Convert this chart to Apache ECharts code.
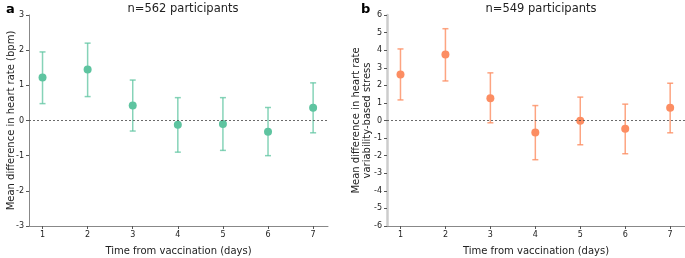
<!DOCTYPE html>
<html>
<head>
<meta charset="utf-8">
<script src="https://cdn.jsdelivr.net/npm/echarts@6/dist/echarts.min.js"></script>
<style>
  html, body { margin: 0; padding: 0; background: #fff; }
  #chart { width: 685px; height: 258px; }
</style>
</head>
<body>
<div id="chart"></div>
<script>
// 接种后天数
const days = [1, 2, 3, 4, 5, 6, 7]

// a: 心率差值 (bpm)
const hrMean = [1.22, 1.45, 0.43, -0.12, -0.10, -0.32, 0.36]
const hrLow = [0.48, 0.68, -0.30, -0.90, -0.85, -1.00, -0.35]
const hrHigh = [1.95, 2.20, 1.15, 0.65, 0.65, 0.37, 1.07]

// b: HRV 压力差值
const stressMean = [2.61, 3.75, 1.27, -0.68, -0.02, -0.47, 0.72]
const stressLow = [1.17, 2.25, -0.13, -2.23, -1.38, -1.89, -0.70]
const stressHigh = [4.07, 5.22, 2.71, 0.85, 1.33, 0.93, 2.12]

const yTicksA = [-3, 3]
const yTicksB = [-6, 6]

const FONT = 'DejaVu Sans'
const green = '#5ec4a0'
const greenBar = 'rgba(94,196,160,0.75)'
const orange = '#fc8d62'
const orangeBar = 'rgba(252,141,98,0.8)'

const chartDom = echarts.init(document.getElementById('chart'))

function errData(low, high) {
  return days.map((d, i) => [d, low[i], high[i]])
}

function errRender(color) {
  return function (params, api) {
    const x = api.value(0)
    const lo = api.coord([x, api.value(1)])
    const hi = api.coord([x, api.value(2)])
    const cap = 3
    const style = { stroke: color, lineWidth: 1.5 }
    return {
      type: 'group',
      children: [
        { type: 'line', shape: { x1: lo[0], y1: lo[1], x2: hi[0], y2: hi[1] }, style },
        { type: 'line', shape: { x1: lo[0] - cap, y1: lo[1], x2: lo[0] + cap, y2: lo[1] }, style },
        { type: 'line', shape: { x1: hi[0] - cap, y1: hi[1], x2: hi[0] + cap, y2: hi[1] }, style }
      ]
    }
  }
}

function xAxis(idx) {
  return {
    type: 'value',
    gridIndex: idx,
    min: 0.7,
    max: 7.33,
    splitLine: { show: false },
    axisLine: { onZero: false, lineStyle: { color: '#888', width: 1 } },
    axisTick: { customValues: days, length: 3, lineStyle: { color: '#555' } },
    axisLabel: { customValues: days, fontFamily: FONT, fontSize: 8, color: '#222', margin: 5 },
    name: 'Time from vaccination (days)',
    nameLocation: 'middle',
    nameGap: 20,
    nameMoveOverlap: false,
    nameTextStyle: { fontFamily: FONT, fontSize: 10, color: '#222' }
  }
}

function yAxis(idx, ticks, name, gap, lineColor, lineWidth) {
  return {
    type: 'value',
    gridIndex: idx,
    min: ticks[0],
    max: ticks[1],
    interval: 1,
    splitLine: { show: false },
    axisLine: { show: true, onZero: false, lineStyle: { color: lineColor, width: lineWidth } },
    axisTick: { show: true, length: 3, lineStyle: { color: '#555' } },
    axisLabel: { fontFamily: FONT, fontSize: 8, color: '#222', margin: 5 },
    name: name,
    nameLocation: 'middle',
    nameGap: gap,
    nameMoveOverlap: false,
    nameTextStyle: { fontFamily: FONT, fontSize: 10, color: '#222', lineHeight: 11 }
  }
}

function zeroLine() {
  return {
    silent: true,
    symbol: 'none',
    label: { show: false },
    lineStyle: { color: '#444', type: [2, 2], width: 0.8 },
    data: [{ yAxis: 0 }]
  }
}

const option = {
  animation: false,
  title: [
    { text: 'n=562 participants', left: 178, top: -2, textAlign: 'center',
      textStyle: { fontFamily: FONT, fontSize: 11.5, fontWeight: 'normal', color: '#222' } },
    { text: 'n=549 participants', left: 536, top: -2, textAlign: 'center',
      textStyle: { fontFamily: FONT, fontSize: 11.5, fontWeight: 'normal', color: '#222' } },
    { text: 'a', left: 1, top: -2, textStyle: { fontFamily: FONT, fontSize: 13, fontWeight: 'bold', color: '#000' } },
    { text: 'b', left: 356, top: -2, textStyle: { fontFamily: FONT, fontSize: 13, fontWeight: 'bold', color: '#000' } }
  ],
  grid: [
    { left: 29, top: 15, width: 299, height: 211, outerBoundsMode: 'none' },
    { left: 387, top: 15, width: 298, height: 211, outerBoundsMode: 'none' }
  ],
  xAxis: [xAxis(0), xAxis(1)],
  yAxis: [
    yAxis(0, yTicksA, 'Mean difference in heart rate (bpm)', 12, '#888', 1),
    yAxis(1, yTicksB, 'Mean difference in heart rate\nvariability-based stress', 14, '#ccc', 2.5)
  ],
  series: [
    {
      type: 'custom', xAxisIndex: 0, yAxisIndex: 0,
      renderItem: errRender(greenBar),
      data: errData(hrLow, hrHigh),
      markLine: zeroLine(),
      z: 2
    },
    {
      type: 'scatter', xAxisIndex: 0, yAxisIndex: 0,
      symbolSize: 8,
      itemStyle: { color: green, opacity: 1 },
      data: days.map((d, i) => [d, hrMean[i]]),
      z: 3
    },
    {
      type: 'custom', xAxisIndex: 1, yAxisIndex: 1,
      renderItem: errRender(orangeBar),
      data: errData(stressLow, stressHigh),
      markLine: zeroLine(),
      z: 2
    },
    {
      type: 'scatter', xAxisIndex: 1, yAxisIndex: 1,
      symbolSize: 8,
      itemStyle: { color: orange, opacity: 1 },
      data: days.map((d, i) => [d, stressMean[i]]),
      z: 3
    }
  ]
}

chartDom.setOption(option)
</script>
</body>
</html>
